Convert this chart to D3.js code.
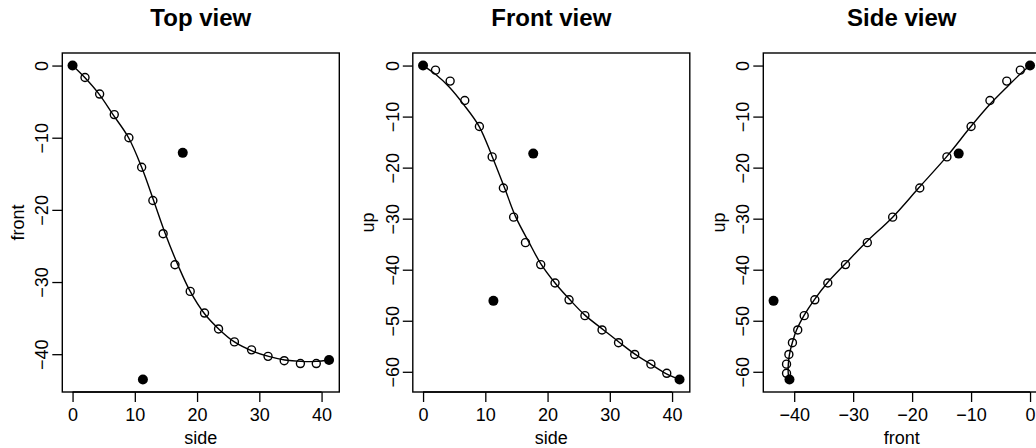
<!DOCTYPE html>
<html>
<head>
<meta charset="utf-8">
<script src="https://cdn.jsdelivr.net/npm/d3@7"></script>
<style>
body { margin: 0; background: #fff; overflow: hidden; }
svg { display: block; }
text { font-family: "Liberation Sans", Arial, Helvetica, sans-serif; fill: #000; }
</style>
</head>
<body>
<div id="div_chart"></div>
<script>
// open circles: tracked positions
var trackSide  = [2.0, 4.35, 6.7, 9.05, 11.1, 12.9, 14.55, 16.45, 18.9, 21.2, 23.45, 26.0, 28.75, 31.4, 34.0, 36.6, 39.15];
var trackFront = [-1.65, -3.95, -6.8, -10.0, -14.1, -18.7, -23.3, -27.6, -31.3, -34.3, -36.5, -38.3, -39.4, -40.3, -40.9, -41.3, -41.3];
var trackUp    = [-0.9, -3.05, -6.85, -11.95, -17.9, -24.0, -29.7, -34.7, -39.0, -42.6, -45.9, -49.0, -51.8, -54.3, -56.6, -58.5, -60.3];

// filled points: start, two landmarks, end
var markSide  = [0, 17.7, 11.3, 41.2];
var markFront = [0, -12.1, -43.5, -40.8];
var markUp    = [0, -17.25, -46.1, -61.5];

// fitted curve
var fitSide  = [0, 2.0, 4.2, 6.5, 9.0, 11.1, 13.1, 14.9, 17.0, 18.9, 21.2, 23.6, 26.0, 29.0, 31.5, 34.1, 36.7, 39.1, 41.2];
var fitFront = [0, -1.7, -3.9, -6.8, -10.0, -14.1, -18.9, -23.3, -27.8, -31.3, -34.4, -36.6, -38.3, -39.6, -40.3, -40.8, -41.0, -41.0, -40.8];
var fitUp    = [0, -1.7, -4.2, -7.6, -11.9, -17.8, -24.0, -29.7, -34.6, -38.8, -42.6, -45.9, -48.9, -51.8, -54.2, -56.6, -58.6, -60.4, -61.5];

var sideTicks  = [0, 10, 20, 30, 40];
var frontTicks = [-40, -30, -20, -10, 0];
var upTicks    = [0, -10, -20, -30, -40, -50, -60];

var columns = {
    side:  { track: trackSide,  mark: markSide,  fit: fitSide,  ticks: sideTicks },
    front: { track: trackFront, mark: markFront, fit: fitFront, ticks: frontTicks },
    up:    { track: trackUp,    mark: markUp,    fit: fitUp,    ticks: upTicks }
};

var views = [
    { title: "Top view",   x: "side",  y: "front" },
    { title: "Front view", x: "side",  y: "up" },
    { title: "Side view",  x: "front", y: "up" }
];

var width = 1036, height = 448;
var panelW = 350.5;
var margin = { left: 62.3, top: 53, bottom: 56 };
var plotW = 277, plotH = height - margin.top - margin.bottom;

// R style domain: data range plus 4% each side
function paddedDomain(key)
{
    var ext = d3.extent(columns[key].track.concat(columns[key].mark));
    var pad = (ext[1] - ext[0]) * 0.04;
    return [ext[0] - pad, ext[1] + pad];
}

function minusSign(d)
{
    return d < 0 ? "\u2212" + Math.abs(d) : "" + d;
}

var svg = d3.select("#div_chart")
    .append("svg")
    .attr("width", width)
    .attr("height", height);

views.forEach(function (view, i) {
    var g = svg.append("g")
        .attr("transform", "translate(" + (i * panelW + margin.left) + "," + margin.top + ")");

    var x = d3.scaleLinear().domain(paddedDomain(view.x)).range([0, plotW]);
    var y = d3.scaleLinear().domain(paddedDomain(view.y)).range([plotH, 0]);
    var cx = columns[view.x], cy = columns[view.y];

    // title
    g.append("text")
        .attr("x", plotW / 2)
        .attr("y", 26 - margin.top)
        .attr("text-anchor", "middle")
        .attr("font-size", "24px")
        .attr("font-weight", "bold")
        .text(view.title);

    // x axis, line only from first to last tick
    var xAxis = g.append("g")
        .attr("transform", "translate(0," + plotH + ")")
        .call(d3.axisBottom(x).tickValues(cx.ticks).tickSize(10).tickPadding(6).tickFormat(minusSign));
    xAxis.select(".domain").remove();
    xAxis.append("line")
        .attr("x1", x(d3.min(cx.ticks))).attr("x2", x(d3.max(cx.ticks)))
        .attr("stroke", "#000").attr("stroke-width", 1.3);
    xAxis.selectAll(".tick line").attr("stroke-width", 1.3);
    xAxis.selectAll(".tick text")
        .attr("font-size", "18px")
        .attr("font-family", "Liberation Sans, Arial, sans-serif");

    // y axis, labels turned like R's las = 0
    var yAxis = g.append("g")
        .call(d3.axisLeft(y).tickValues(cy.ticks).tickSize(10).tickFormat(minusSign));
    yAxis.select(".domain").remove();
    yAxis.selectAll(".tick line").attr("stroke-width", 1.3);
    yAxis.selectAll(".tick text")
        .attr("font-size", "18px")
        .attr("font-family", "Liberation Sans, Arial, sans-serif")
        .attr("x", null).attr("dy", null)
        .attr("text-anchor", "middle")
        .attr("transform", "translate(-14,0) rotate(-90)");

    // axis titles
    g.append("text")
        .attr("x", plotW / 2)
        .attr("y", plotH + 52)
        .attr("text-anchor", "middle")
        .attr("font-size", "18px")
        .text(view.x);
    g.append("text")
        .attr("transform", "translate(" + (23.5 - margin.left) + "," + (plotH / 2) + ") rotate(-90)")
        .attr("text-anchor", "middle")
        .attr("font-size", "18px")
        .text(view.y);

    // fitted curve
    var line = d3.line()
        .x(function (d) { return x(cx.fit[d]); })
        .y(function (d) { return y(cy.fit[d]); })
        .curve(d3.curveCatmullRom.alpha(0.5));
    g.append("path")
        .datum(d3.range(cx.fit.length))
        .attr("d", line)
        .attr("fill", "none")
        .attr("stroke", "#000")
        .attr("stroke-width", 1.4);

    g.selectAll("circle.track")
        .data(d3.range(cx.track.length))
        .enter()
        .append("circle")
        .attr("class", "track")
        .attr("cx", function (d) { return x(cx.track[d]); })
        .attr("cy", function (d) { return y(cy.track[d]); })
        .attr("r", 4)
        .attr("fill", "none")
        .attr("stroke", "#000")
        .attr("stroke-width", 1.4);

    g.selectAll("circle.mark")
        .data(d3.range(cx.mark.length))
        .enter()
        .append("circle")
        .attr("class", "mark")
        .attr("cx", function (d) { return x(cx.mark[d]); })
        .attr("cy", function (d) { return y(cy.mark[d]); })
        .attr("r", 5)
        .attr("fill", "#000");

    // box
    g.append("rect")
        .attr("width", plotW)
        .attr("height", plotH)
        .attr("fill", "none")
        .attr("stroke", "#000")
        .attr("stroke-width", 1.4);
});
</script>
</body>
</html>
